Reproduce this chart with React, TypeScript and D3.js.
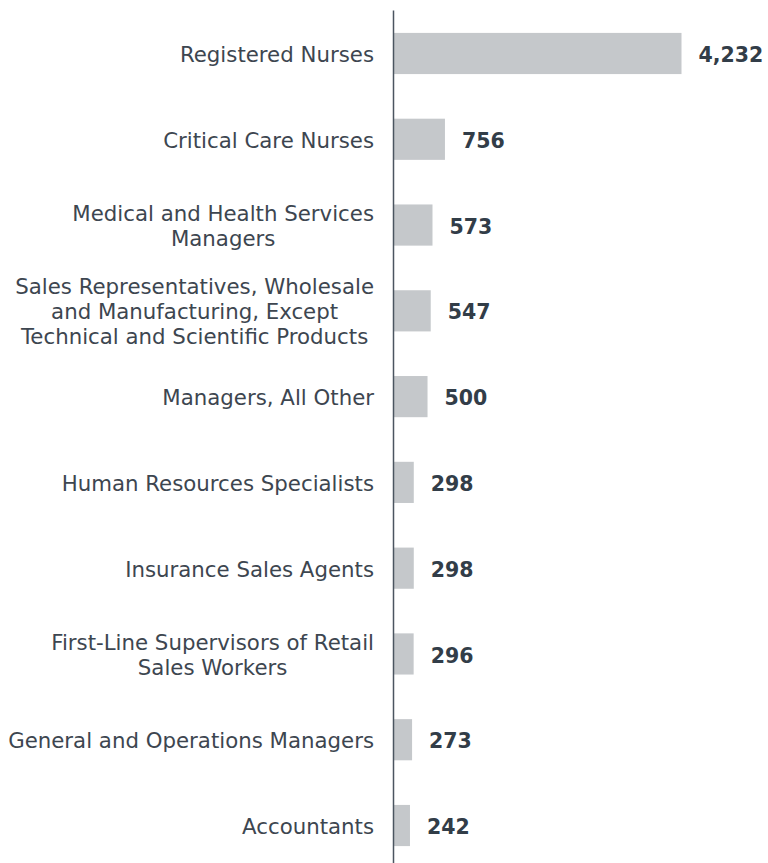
import React, { useRef, useEffect } from 'react';
import * as d3 from 'd3';

const categories = [
  'Registered Nurses',
  'Critical Care Nurses',
  'Medical and Health Services\nManagers',
  'Sales Representatives, Wholesale\nand Manufacturing, Except\nTechnical and Scientific Products',
  'Managers, All Other',
  'Human Resources Specialists',
  'Insurance Sales Agents',
  'First-Line Supervisors of Retail\nSales Workers',
  'General and Operations Managers',
  'Accountants',
];
const values = [4232, 756, 573, 547, 500, 298, 298, 296, 273, 242];

const width = 768;
const height = 863;

const App = () => {
  const svgRef = useRef<SVGSVGElement>(null);

  useEffect(() => {
    const svg = d3.select(svgRef.current);
    svg.selectAll('*').remove();

    const axisX = 393.5;
    const labelRight = 374;
    const lineHeight = 25;
    const font = '"DejaVu Sans", Verdana, sans-serif';

    const y = d3.scaleBand<string>()
      .domain(categories)
      .range([10.6, 868.4])
      .paddingInner(0.52)
      .paddingOuter(0.26);

    const x = d3.scaleLinear()
      .domain([0, d3.max(values) as number])
      .range([0, 288]);

    const g = svg.append('g');

    // bars
    g.selectAll('rect.bar')
      .data(values)
      .join('rect')
      .attr('class', 'bar')
      .attr('x', axisX)
      .attr('y', (d, i) => y(categories[i]) as number)
      .attr('width', d => x(d))
      .attr('height', y.bandwidth())
      .attr('fill', '#c5c8cb');

    // value labels
    g.selectAll('text.value')
      .data(values)
      .join('text')
      .attr('class', 'value')
      .attr('x', d => axisX + x(d) + 17)
      .attr('y', (d, i) => (y(categories[i]) as number) + y.bandwidth() / 2)
      .attr('dy', '0.42em')
      .attr('font-family', font)
      .attr('font-size', '20.5px')
      .attr('font-weight', 'bold')
      .attr('fill', '#323d48')
      .text(d => d3.format(',')(d));

    // category labels, lines centred in a block that is right-aligned
    categories.forEach(cat => {
      const lines = cat.split('\n');
      const cy = (y(cat) as number) + y.bandwidth() / 2;
      const t = g.append('text')
        .attr('font-family', font)
        .attr('font-size', '21.3px')
        .attr('fill', '#3d4650')
        .attr('text-anchor', 'middle');
      const spans = lines.map((ln, k) =>
        t.append('tspan')
          .attr('y', cy + (k - (lines.length - 1) / 2) * lineHeight)
          .attr('dy', '0.4em')
          .text(ln));
      let maxW = 0;
      spans.forEach(s => {
        maxW = Math.max(maxW, (s.node() as SVGTSpanElement).getComputedTextLength());
      });
      spans.forEach(s => s.attr('x', labelRight - maxW / 2));
    });

    // axis line
    g.append('line')
      .attr('x1', axisX)
      .attr('x2', axisX)
      .attr('y1', 10.6)
      .attr('y2', height)
      .attr('stroke', '#4b5560')
      .attr('stroke-width', 1.5);
  }, []);

  return (
    <svg
      ref={svgRef}
      width={width}
      height={height}
      style={{ position: 'absolute', left: 0, top: 0, background: '#ffffff' }}
    ></svg>
  );
};

export default App;
